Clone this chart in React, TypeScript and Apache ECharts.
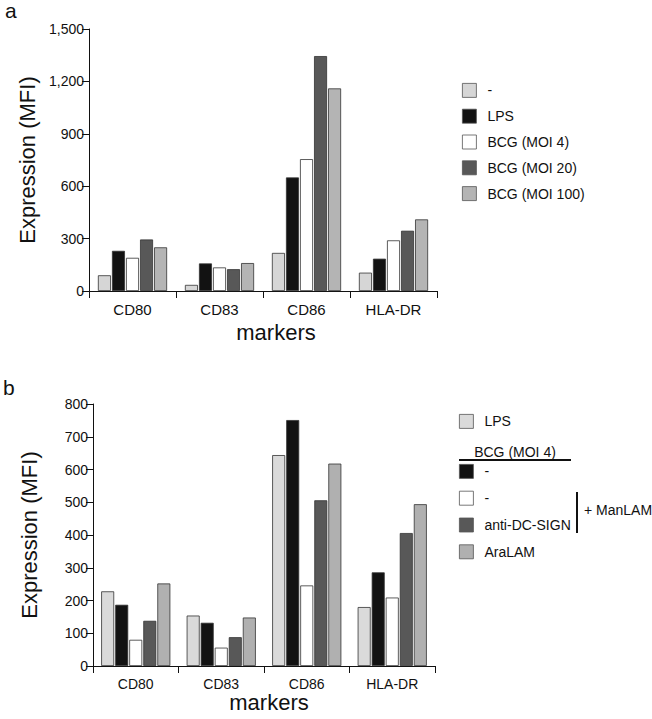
import React, { useEffect, useRef } from "react";
import * as echarts from "echarts";

const categories = ["CD80", "CD83", "CD86", "HLA-DR"];

// Panel a
const aNames = ["-", "LPS", "BCG (MOI 4)", "BCG (MOI 20)", "BCG (MOI 100)"];
const aNone = [90, 35, 218, 105];
const aLPS = [230, 158, 650, 185];
const aMOI4 = [190, 135, 755, 290];
const aMOI20 = [295, 125, 1345, 345];
const aMOI100 = [250, 160, 1160, 410];
const aTicks = [0, 300, 600, 900, 1200, 1500];

// Panel b
const bNames = ["LPS", "BCG -", "ManLAM -", "anti-DC-SIGN", "AraLAM"];
const bLabels = ["LPS", "-", "-", "anti-DC-SIGN", "AraLAM"];
const bLPS = [228, 154, 644, 180];
const bBCG = [187, 132, 751, 286];
const bManLAM = [80, 56, 246, 209];
const bAnti = [138, 88, 506, 406];
const bAraLAM = [252, 148, 618, 494];
const bTicks = [0, 100, 200, 300, 400, 500, 600, 700, 800];

const aColors = ["#d6d6d6", "#121212", "#ffffff", "#585858", "#b4b4b4"];
const bColors = ["#dadada", "#121212", "#ffffff", "#585858", "#b0b0b0"];

const FONT = "'Liberation Sans', Arial, Helvetica, sans-serif";

export default function App() {
  const ref = useRef<HTMLDivElement>(null);
  useEffect(() => {
    if (!ref.current) return;
    const chart = echarts.init(ref.current, null, { renderer: "svg" });
    const aData = [aNone, aLPS, aMOI4, aMOI20, aMOI100];
    const bData = [bLPS, bBCG, bManLAM, bAnti, bAraLAM];
    const bKeyNames = bNames.map((n) => "b:" + n);
    const labelMap: Record<string, string> = {};
    bKeyNames.forEach((k, i) => (labelMap[k] = bLabels[i]));

    const mkSeries = (names: string[], data: number[][], colors: string[], idx: number) =>
      names.map((n, i) => ({
        name: n,
        type: "bar",
        xAxisIndex: idx,
        yAxisIndex: idx,
        data: data[i],
        barWidth: 13,
        barGap: "8%",
        itemStyle: { color: colors[i], borderColor: "#333", borderWidth: 0.8 },
      }));

    const xAxisBase = (gridIndex: number, fontSize: number, nameGap: number, padLeft: number) => ({
      type: "category",
      gridIndex,
      data: categories,
      axisLine: { lineStyle: { color: "#111", width: 1 } },
      axisTick: { show: true, length: 7, lineStyle: { color: "#111" } },
      axisLabel: { color: "#111", fontSize, fontFamily: FONT, margin: 11 },
      name: "markers",
      nameLocation: "middle",
      nameGap,
      nameTextStyle: { color: "#111", fontSize: 22, fontFamily: FONT, padding: [0, 0, 0, padLeft] },
    });

    const yAxisBase = (gridIndex: number, max: number, interval: number, nameGap: number, fmt: (v: number) => string) => ({
      type: "value",
      gridIndex,
      min: 0,
      max,
      interval,
      splitLine: { show: false },
      axisLine: { show: true, lineStyle: { color: "#111", width: 1 } },
      axisTick: { show: true, length: 7, lineStyle: { color: "#111" } },
      axisLabel: { color: "#111", fontSize: 14, fontFamily: FONT, margin: 5, formatter: fmt },
      name: "Expression (MFI)",
      nameLocation: "middle",
      nameRotate: 90,
      nameGap,
      nameTextStyle: { color: "#111", fontSize: 22, fontFamily: FONT },
    });

    const legendText = { color: "#111", fontSize: 14, lineHeight: 14, fontFamily: FONT, padding: [0, 0, 0, 6] };

    const option: any = {
      animation: false,
      backgroundColor: "#ffffff",
      textStyle: { fontFamily: FONT },
      grid: [
        { left: 89, top: 29, width: 348, height: 262 },
        { left: 93, top: 404, width: 342, height: 262 },
      ],
      xAxis: [xAxisBase(0, 15, 30, 26), xAxisBase(1, 14, 24, 10)],
      yAxis: [
        yAxisBase(0, aTicks[aTicks.length - 1], aTicks[1] - aTicks[0], 48, (v: number) => v.toLocaleString("en-US")),
        yAxisBase(1, bTicks[bTicks.length - 1], bTicks[1] - bTicks[0], 53, (v: number) => String(v)),
      ],
      legend: [
        {
          data: aNames,
          orient: "vertical",
          left: 457,
          top: 78,
          itemWidth: 14,
          itemHeight: 14,
          itemGap: 11,
          icon: "rect",
          selectedMode: false,
          itemStyle: { borderColor: "#555", borderWidth: 0.8 },
          textStyle: legendText,
        },
        {
          data: [bKeyNames[0]],
          orient: "vertical",
          left: 454,
          top: 409,
          itemWidth: 14,
          itemHeight: 14,
          icon: "rect",
          selectedMode: false,
          itemStyle: { borderColor: "#555", borderWidth: 0.8 },
          formatter: (n: string) => labelMap[n] ?? n,
          textStyle: legendText,
        },
        {
          data: bKeyNames.slice(1),
          orient: "vertical",
          left: 454,
          top: 459,
          itemWidth: 14,
          itemHeight: 14,
          itemGap: 12,
          icon: "rect",
          selectedMode: false,
          itemStyle: { borderColor: "#555", borderWidth: 0.8 },
          formatter: (n: string) => labelMap[n] ?? n,
          textStyle: legendText,
        },
      ],
      series: [
        ...mkSeries(aNames, aData, aColors, 0),
        ...mkSeries(bKeyNames, bData, bColors, 1),
      ],
      graphic: [
        { type: "text", left: 5, top: 0, style: { text: "a", fontSize: 21, fontFamily: FONT, fill: "#111" } },
        { type: "text", left: 3, top: 377, style: { text: "b", fontSize: 21, fontFamily: FONT, fill: "#111" } },
        {
          type: "text",
          x: 515,
          y: 452,
          style: { text: "BCG (MOI 4)", fontSize: 14, fontFamily: FONT, fill: "#111", align: "center", verticalAlign: "middle" },
        },
        { type: "line", shape: { x1: 459, y1: 460, x2: 571, y2: 460 }, style: { stroke: "#111", lineWidth: 2 } },
        { type: "line", shape: { x1: 577, y1: 492, x2: 577, y2: 533 }, style: { stroke: "#111", lineWidth: 2 } },
        {
          type: "text",
          x: 584,
          y: 510,
          style: { text: "+ ManLAM", fontSize: 14, fontFamily: FONT, fill: "#111", verticalAlign: "middle" },
        },
      ],
    };
    chart.setOption(option);
    return () => chart.dispose();
  }, []);
  return (
    <div
      ref={ref}
      style={{ position: "absolute", left: 0, top: 0, width: 652, height: 719, background: "#fff" }}
    />
  );
}
